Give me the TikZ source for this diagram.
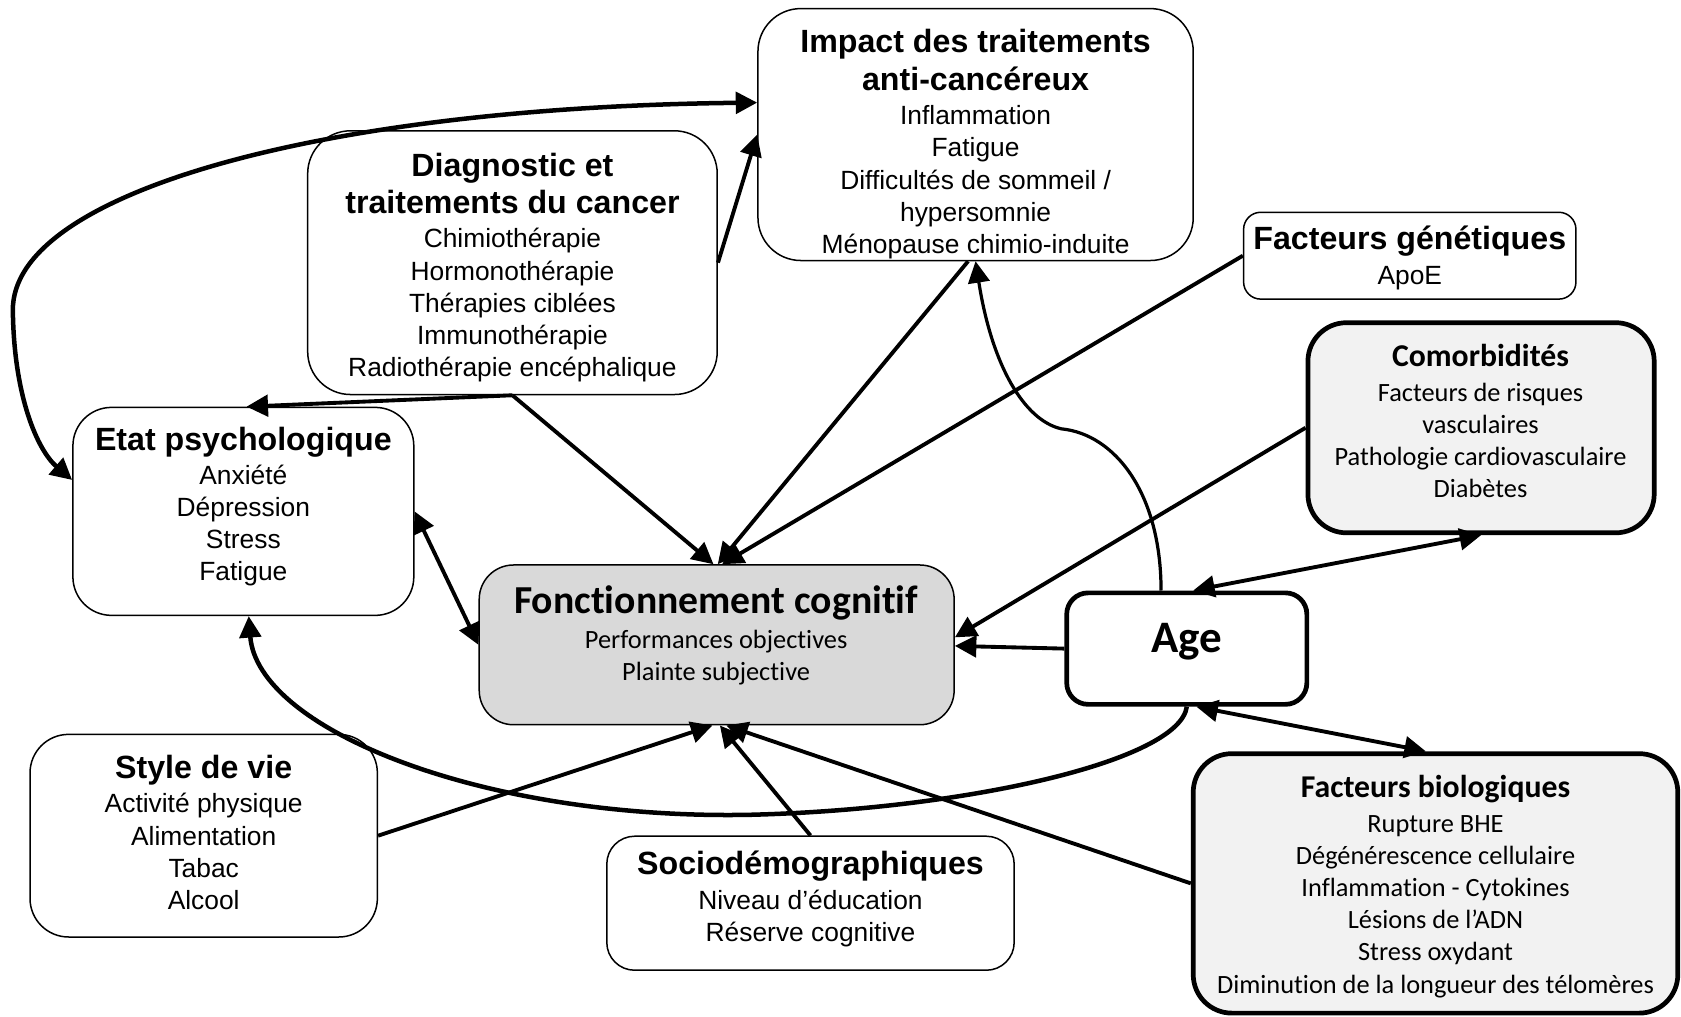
\documentclass[tikz,border=0pt]{standalone}
\usepackage{fontspec}
\setmainfont[Ligatures=NoCommon]{Liberation Sans}
\newfontfamily\calfont[Ligatures=NoCommon]{Carlito}
\usetikzlibrary{arrows.meta,calc,fit}
\definecolor{gA}{HTML}{D9D9D9}
\definecolor{gB}{HTML}{F2F2F2}
\newcommand{\regsz}{\fontsize{12.3}{15}\selectfont\lineskiplimit=-50pt\relax}
\newcommand{\titsz}{\fontsize{15}{17.5}\selectfont\bfseries}
\begin{document}
\begin{tikzpicture}[x=0.5pt,y=-0.5pt,
  box/.style={draw, fill=white, rounded corners=#1, inner sep=0pt, line width=0.7pt},
  thickbox/.style={draw, fill=white, rounded corners=#1, inner sep=0pt, line width=2.2pt},
  txt/.style={align=center, inner sep=0pt, font=\regsz},
  ctxt/.style={align=center, inner sep=0pt, font=\regsz\calfont},
  arr/.style={line width=1.8pt, -{Triangle[length=10pt,width=10pt]}},
  darr/.style={line width=1.8pt, {Triangle[length=10pt,width=10pt]}-{Triangle[length=10pt,width=10pt]}},
]
\useasboundingbox (0,0) rectangle (1568,948);

% boxes
\node[box=20pt, fit={(707,8) (1113,243)}] (imp) {};
\node[box=20pt, fit={(287,122) (669,368)}] (diag) {};
\node[box=8pt, fit={(1160,198) (1470,279)}] (gen) {};
\node[thickbox=18pt, fill=gB, fit={(1220,301) (1543,497)}] (comor) {};
\node[box=18pt, fit={(68,380) (386,574)}] (etat) {};
\node[box=16pt, fill=gA, fit={(447,527) (890,676)}] (fonc) {};
\node[thickbox=10pt, fit={(995,553) (1219,657)}] (age) {};
\node[box=18pt, fit={(28,685) (352,874)}] (style) {};
\node[box=13pt, fit={(566,780) (946,905)}] (socio) {};
\node[thickbox=18pt, fill=gB, fit={(1113,703) (1565,945)}] (bio) {};

% texts
\node[txt] (timp) at (910,134.5) {{\titsz Impact des traitements}\\[2.5pt]{\titsz anti-cancéreux}\\[1pt]Inflammation\\Fatigue\\Difficultés de sommeil /\\hypersomnie\\Ménopause chimio-induite};
\node[txt] (tdiag) at (478,249.5) {{\titsz Diagnostic et}\\[2.5pt]{\titsz traitements du cancer}\\[1pt]Chimiothérapie\\Hormonothérapie\\Thérapies ciblées\\Immunothérapie\\Radiothérapie encéphalique};
\node[txt] (tgen) at (1315,240.5) {{\titsz Facteurs génétiques}\\[1.5pt]ApoE};
\node[ctxt] (tcomor) at (1381,393) {{\fontsize{14.8}{16}\selectfont\bfseries Comorbidités}\\[1pt]Facteurs de risques\\vasculaires\\Pathologie cardiovasculaire\\Diabètes};
\node[txt] (tetat) at (227,472.5) {{\titsz Etat psychologique}\\[1pt]Anxiété\\Dépression\\Stress\\Fatigue};
\node[ctxt] (tfonc) at (668,592.5) {{\fontsize{18.5}{20}\selectfont\bfseries Fonctionnement cognitif}\\[1.5pt]Performances objectives\\Plainte subjective};
\node[ctxt, font=\calfont\bfseries\fontsize{21}{24}\selectfont] (tage) at (1107,599) {Age};
\node[txt] (tstyle) at (190,776.5) {{\titsz Style de vie}\\[1pt]Activité physique\\Alimentation\\Tabac\\Alcool};
\node[txt] (tsocio) at (756,838.5) {{\titsz Sociodémographiques}\\[1.5pt]Niveau d’éducation\\Réserve cognitive};
\node[ctxt] (tbio) at (1339,827) {{\fontsize{14.8}{16}\selectfont\bfseries Facteurs biologiques}\\[1pt]Rupture BHE\\Dégénérescence cellulaire\\Inflammation - Cytokines\\Lésions de l’ADN\\Stress oxydant\\Diminution de la longueur des télomères};

% connectors
\coordinate (aMid) at (12,290);
\draw[line width=2.1pt, {Triangle[length=10pt,width=10pt]}-{Triangle[length=10pt,width=10pt]}]
  ($(etat.north west)!0.35!(etat.south west)$) .. controls (35,420) and (13,370) .. (aMid)
  .. controls (10,180) and (300,100) .. ($(imp.north west)!0.374!(imp.south west)$);
\draw[arr] (diag.east) -- (imp.west);
\draw[arr] (diag.south) -- ($(etat.north)+(3,0)$);
\draw[arr] (diag.south) -- ($(fonc.north)+(-3,0)$);
\draw[arr] ($(imp.south)+(-7,0)$) -- ($(fonc.north)+(1,0)$);
\draw[arr] (gen.west) -- ($(fonc.north)+(5,0)$);
\coordinate (gMid) at (990,400);
\draw[line width=1.5pt, -{Triangle[length=10pt,width=10pt]}] ($(age.north)+(-24,0)$) .. controls (1083,460) and (1040,405) .. (gMid)
  .. controls (955,392) and (925,340) .. (imp.south);
\draw[darr] ($(age.north)+(6,0)$) -- (comor.south);
\draw[arr] (comor.west) -- ($(fonc.east)+(0,-7)$);
\draw[arr] (age.west) -- ($(fonc.east)+(0,1)$);
\coordinate (kMid) at (700,760);
\draw[line width=2.1pt, -{Triangle[length=10pt,width=10pt]}] (age.south) .. controls (1100,710) and (900,755) .. (kMid)
  .. controls (450,765) and (240,680) .. ($(etat.south)+(5,0)$);
\draw[darr] (etat.east) -- (fonc.west);
\draw[arr] (style.east) -- ($(fonc.south)+(-4,0)$);
\draw[arr] (socio.north) -- ($(fonc.south)+(3,0)$);
\draw[arr] (bio.west) -- ($(fonc.south)+(9,0)$);
\draw[darr] ($(age.south)+(9,0)$) -- ($(bio.north)+(-9,0)$);
\end{tikzpicture}
\end{document}
